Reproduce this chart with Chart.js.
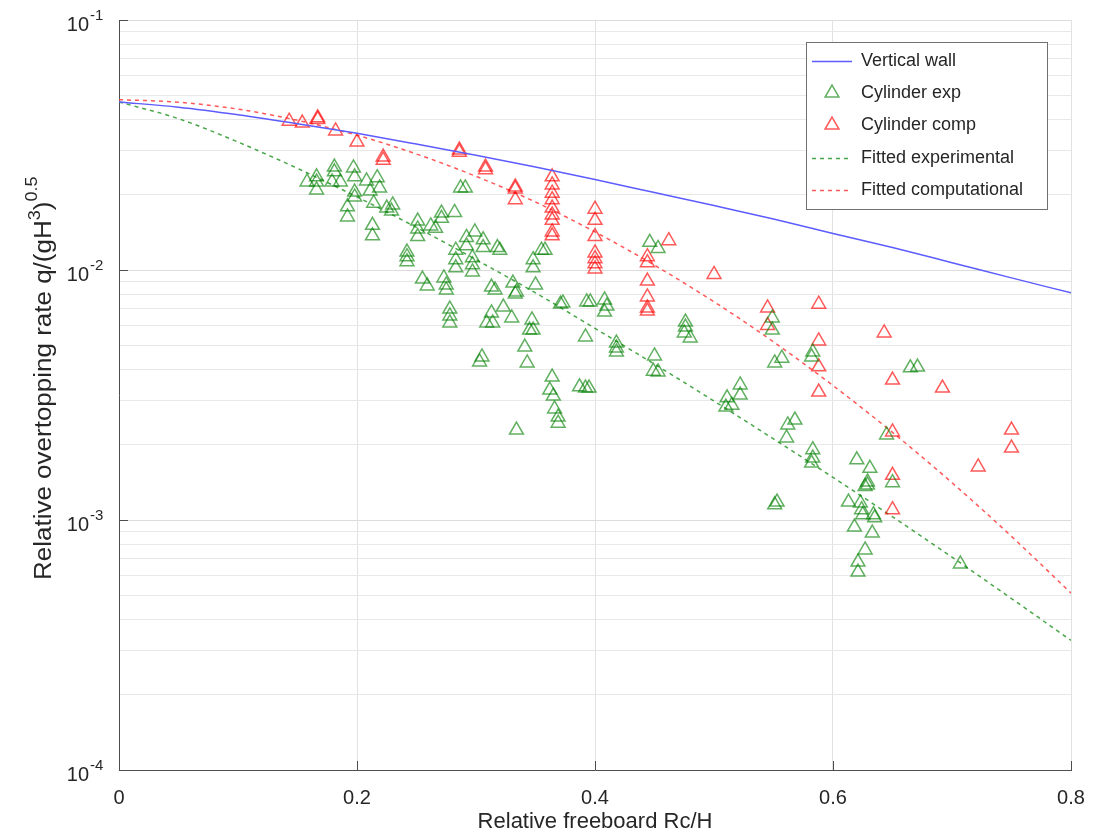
<!DOCTYPE html>
<html>
<head>
<meta charset="utf-8">
<script src="https://cdn.jsdelivr.net/npm/chart.js@4.4.1/dist/chart.umd.min.js"></script>
<style>
  html, body { margin: 0; padding: 0; background: #fff; }
</style>
</head>
<body>
<canvas id="chart1" width="1112" height="836"></canvas>
<script>
// curves sampled every 0.05 of Rc/H
const curveX = [0, 0.05, 0.1, 0.15, 0.2, 0.25, 0.3, 0.35, 0.4, 0.45, 0.5, 0.55, 0.6, 0.65, 0.7, 0.75, 0.8];
const wallQ = [0.047, 0.0448, 0.0418, 0.0385, 0.0352, 0.0319, 0.0288, 0.0258, 0.023, 0.0204, 0.0181, 0.016, 0.014, 0.0123, 0.0107, 0.0093, 0.0081];
const fitExpQ = [0.047, 0.0403, 0.0325, 0.0255, 0.0196, 0.0148, 0.011, 0.0081, 0.00584, 0.0042, 0.00299, 0.00211, 0.00148, 0.00103, 0.00071, 0.000485, 0.00033];
const fitCompQ = [0.048, 0.0469, 0.044, 0.0397, 0.0346, 0.0291, 0.0237, 0.0187, 0.0142, 0.01045, 0.00746, 0.00516, 0.00345, 0.00224, 0.00141, 0.00086, 0.00051];

// experimental cylinder points
const expX = [
  0.158, 0.166, 0.166, 0.166, 0.179, 0.181, 0.181, 0.186, 0.192, 0.192, 0.197, 0.198, 0.198, 0.198,
  0.208, 0.211, 0.217, 0.219, 0.214, 0.213, 0.213, 0.225, 0.23, 0.229,
  0.242, 0.242, 0.242, 0.251, 0.251, 0.251, 0.262, 0.266, 0.271, 0.271, 0.282, 0.287, 0.291,
  0.255, 0.259, 0.273, 0.275, 0.275, 0.278, 0.278, 0.278, 0.283, 0.283, 0.283,
  0.292, 0.292, 0.297, 0.297, 0.297, 0.299, 0.306, 0.306, 0.318, 0.32, 0.313, 0.316, 0.323,
  0.313, 0.309, 0.314, 0.33, 0.331, 0.334, 0.333, 0.347, 0.345, 0.348, 0.341, 0.343,
  0.305, 0.303, 0.334, 0.348, 0.348, 0.35, 0.355, 0.358,
  0.364, 0.362, 0.365, 0.366, 0.369, 0.369, 0.371, 0.373, 0.392, 0.393, 0.396, 0.408, 0.41,
  0.408, 0.387, 0.392, 0.395, 0.418, 0.418, 0.418,
  0.446, 0.453, 0.45, 0.449, 0.453, 0.476, 0.476, 0.475, 0.48,
  0.511, 0.51, 0.515, 0.522, 0.522, 0.549, 0.549, 0.551, 0.557, 0.568, 0.562, 0.561, 0.553, 0.551,
  0.583, 0.582, 0.583, 0.583, 0.582, 0.62, 0.631, 0.629, 0.629, 0.627, 0.645, 0.65,
  0.613, 0.623, 0.624, 0.625, 0.634, 0.635, 0.618, 0.633, 0.627, 0.621, 0.621,
  0.665, 0.671, 0.707
];
const expQ = [
  0.0225, 0.0236, 0.0225, 0.0209, 0.0225, 0.0258, 0.0247, 0.0225, 0.0179, 0.0163, 0.0256, 0.0236, 0.0205, 0.0196,
  0.0227, 0.0207, 0.0234, 0.0213, 0.0185, 0.0151, 0.0137, 0.0177, 0.0182, 0.0172,
  0.0118, 0.0113, 0.0108, 0.0157, 0.0146, 0.0136, 0.015, 0.0147, 0.0169, 0.0161, 0.017, 0.0213, 0.0213,
  0.0092, 0.00863, 0.00929, 0.00871, 0.00832, 0.00698, 0.00655, 0.00614, 0.012, 0.011, 0.0102,
  0.0135, 0.0125, 0.0112, 0.0105, 0.00982, 0.0142, 0.0132, 0.0123, 0.0123, 0.012, 0.00855, 0.00832, 0.00711,
  0.00673, 0.00614, 0.00614, 0.00643, 0.00887, 0.00817, 0.00802, 0.00631, 0.00575, 0.00575, 0.00492, 0.00425,
  0.00449, 0.00429, 0.00229, 0.011, 0.0102, 0.00871, 0.012, 0.012,
  0.00373, 0.00331, 0.00313, 0.00278, 0.00258, 0.00244, 0.00731, 0.00738, 0.0054, 0.00745, 0.00745, 0.00759, 0.00717,
  0.00679, 0.00341, 0.00337, 0.00337, 0.0051, 0.00488, 0.0047,
  0.0129, 0.0122, 0.00453, 0.00394, 0.00391, 0.00619, 0.00591, 0.0056, 0.00535,
  0.00308, 0.00283, 0.00288, 0.00347, 0.00316, 0.00643, 0.00575, 0.00425, 0.00444, 0.00251, 0.0024, 0.00213, 0.00118, 0.00115,
  0.0047, 0.00449, 0.00191, 0.00177, 0.00169, 0.00174, 0.00161, 0.00142, 0.00138, 0.00136, 0.00219, 0.00141,
  0.00118, 0.00117, 0.0011, 0.00105, 0.00105, 0.00102, 0.000937, 0.000887, 0.000759, 0.000679, 0.000619,
  0.00406, 0.00409, 0.000667
];

// computational cylinder points
const compX = [
  0.143, 0.154, 0.167, 0.167, 0.182, 0.2, 0.222, 0.222, 0.286, 0.286, 0.308, 0.308, 0.333, 0.333, 0.333,
  0.364, 0.364, 0.364, 0.364, 0.364, 0.364, 0.364, 0.364, 0.364,
  0.4, 0.4, 0.4, 0.4, 0.4, 0.4, 0.4,
  0.444, 0.444, 0.444, 0.444, 0.444, 0.444,
  0.462, 0.5, 0.545, 0.545, 0.588, 0.588, 0.588, 0.588,
  0.643, 0.65, 0.65, 0.65, 0.65, 0.692, 0.722, 0.75, 0.75
];
const compQ = [
  0.0394, 0.0387, 0.0406, 0.04, 0.036, 0.0325, 0.0283, 0.0275, 0.0302, 0.0296, 0.0258, 0.0252, 0.0215, 0.0211, 0.0191,
  0.0236, 0.0219, 0.0203, 0.0191, 0.0177, 0.0166, 0.0158, 0.0142, 0.0137,
  0.0175, 0.0158, 0.0136, 0.0117, 0.0111, 0.0106, 0.0101,
  0.0113, 0.0107, 0.00903, 0.0078, 0.00705, 0.00685,
  0.0131, 0.0096, 0.00705, 0.006, 0.0073, 0.0052, 0.0041, 0.00325,
  0.0056, 0.00363, 0.00225, 0.00151, 0.0011, 0.00337, 0.00163, 0.00229, 0.00194
];

const xTicks = [0, 0.2, 0.4, 0.6, 0.8];
const yDecades = [1e-4, 1e-3, 1e-2, 1e-1];
const yDecadeLabels = ["-4", "-3", "-2", "-1"];

const FONT = "'Liberation Sans', Arial, sans-serif";
const TXT = "#262626";

const pairs = (xs, ys) => xs.map((v, i) => ({ x: v, y: ys[i] }));

// y grid: decades plus 2..9 in between
let yTickValues = [];
for (let i = 0; i < yDecades.length - 1; i++) {
  for (let m = 1; m <= 9; m++) yTickValues.push(m * yDecades[i]);
}
yTickValues.push(yDecades[yDecades.length - 1]);

const overlay = {
  id: "overlay",
  afterDraw(chart) {
    const { ctx, chartArea: a } = chart;
    const xs = chart.scales.x;
    const ys = chart.scales.y;
    ctx.save();

    // inward tick marks
    ctx.strokeStyle = "#4d4d4d";
    ctx.lineWidth = 1;
    ctx.beginPath();
    xTicks.forEach((v) => {
      const px = Math.round(xs.getPixelForValue(v)) + 0.5;
      ctx.moveTo(px, a.bottom);
      ctx.lineTo(px, a.bottom - 9);
    });
    yDecades.forEach((v) => {
      const py = Math.round(ys.getPixelForValue(v)) + 0.5;
      ctx.moveTo(a.left, py);
      ctx.lineTo(a.left + 9, py);
    });
    ctx.stroke();

    // y tick labels 10^n
    ctx.fillStyle = TXT;
    yDecades.forEach((v, i) => {
      const py = ys.getPixelForValue(v);
      ctx.font = "20px " + FONT;
      ctx.textAlign = "right";
      ctx.textBaseline = "middle";
      ctx.fillText("10", 89, py + 5);
      ctx.font = "15px " + FONT;
      ctx.textAlign = "left";
      ctx.fillText(yDecadeLabels[i], 90, py - 4);
    });

    // x title
    ctx.font = "22px " + FONT;
    ctx.textAlign = "center";
    ctx.textBaseline = "middle";
    ctx.fillText("Relative freeboard Rc/H", (a.left + a.right) / 2, 822);

    // y title with superscripts
    ctx.save();
    ctx.translate(51, 580);
    ctx.rotate(-Math.PI / 2);
    ctx.scale(1.13, 1);
    ctx.textAlign = "left";
    ctx.textBaseline = "alphabetic";
    let cx = 0;
    const part = (t, size, rise) => {
      ctx.font = size + "px " + FONT;
      ctx.fillText(t, cx, -rise);
      cx += ctx.measureText(t).width;
    };
    part("Relative overtopping rate q/(gH", 23, 0);
    part("3", 16, 11);
    part(")", 23, 0);
    part("0.5", 16, 14);
    ctx.restore();

    // legend
    const L = { x: 806, y: 42, w: 241, h: 167 };
    ctx.fillStyle = "#fff";
    ctx.fillRect(L.x, L.y, L.w, L.h);
    ctx.strokeStyle = "#707070";
    ctx.lineWidth = 1;
    ctx.strokeRect(L.x + 0.5, L.y + 0.5, L.w, L.h);
    const rowY = [61, 93, 125, 158, 190];
    chart.data.datasets.forEach((ds, i) => {
      const yy = rowY[i];
      if (ds.showLine === false) {
        const r = 8;
        ctx.beginPath();
        ctx.moveTo(832, yy - r);
        ctx.lineTo(832 + r * Math.sin(Math.PI * 2 / 3), yy - r * Math.cos(Math.PI * 2 / 3));
        ctx.lineTo(832 + r * Math.sin(Math.PI * 4 / 3), yy - r * Math.cos(Math.PI * 4 / 3));
        ctx.closePath();
        ctx.strokeStyle = ds.borderColor;
        ctx.lineWidth = ds.borderWidth;
        ctx.setLineDash([]);
        ctx.stroke();
      } else {
        ctx.beginPath();
        ctx.moveTo(812, yy + 0.5);
        ctx.lineTo(852, yy + 0.5);
        ctx.strokeStyle = ds.borderColor;
        ctx.lineWidth = ds.borderWidth;
        ctx.setLineDash(ds.borderDash || []);
        ctx.stroke();
        ctx.setLineDash([]);
      }
      ctx.fillStyle = TXT;
      ctx.font = "18px " + FONT;
      ctx.textAlign = "left";
      ctx.textBaseline = "middle";
      ctx.fillText(ds.label, 861, yy);
    });

    ctx.restore();
  },
};

new Chart(document.getElementById("chart1"), {
  type: "scatter",
  data: {
    datasets: [
      {
        label: "Vertical wall",
        type: "line",
        data: pairs(curveX, wallQ),
        borderColor: "#5c5cff",
        borderWidth: 1.5,
        pointRadius: 0,
        cubicInterpolationMode: "monotone",
        fill: false,
      },
      {
        label: "Cylinder exp",
        data: pairs(expX, expQ),
        showLine: false,
        pointStyle: "triangle",
        pointRadius: 8,
        borderColor: "rgba(0,128,0,0.62)",
        backgroundColor: "rgba(0,0,0,0)",
        borderWidth: 1.5,
      },
      {
        label: "Cylinder comp",
        data: pairs(compX, compQ),
        showLine: false,
        pointStyle: "triangle",
        pointRadius: 8,
        borderColor: "rgba(255,0,0,0.65)",
        backgroundColor: "rgba(0,0,0,0)",
        borderWidth: 1.5,
      },
      {
        label: "Fitted experimental",
        type: "line",
        data: pairs(curveX, fitExpQ),
        borderColor: "rgba(40,150,40,0.85)",
        borderWidth: 1.5,
        borderDash: [4, 4],
        pointRadius: 0,
        cubicInterpolationMode: "monotone",
        fill: false,
      },
      {
        label: "Fitted computational",
        type: "line",
        data: pairs(curveX, fitCompQ),
        borderColor: "rgba(255,70,70,0.9)",
        borderWidth: 1.5,
        borderDash: [4, 4],
        pointRadius: 0,
        cubicInterpolationMode: "monotone",
        fill: false,
      },
    ],
  },
  options: {
    responsive: false,
    animation: false,
    layout: { padding: { top: 20, right: 41, left: 0, bottom: 0 } },
    plugins: {
      legend: { display: false },
      tooltip: { enabled: false },
    },
    scales: {
      x: {
        type: "linear",
        min: 0,
        max: 0.8,
        afterBuildTicks: (s) => { s.ticks = xTicks.map((v) => ({ value: v })); },
        afterFit: (s) => { s.height = 66; },
        ticks: {
          font: { family: FONT, size: 20 },
          color: TXT,
          padding: 16,
          maxRotation: 0,
        },
        grid: { color: "#e2e2e2", drawTicks: false },
        border: { display: true, color: "#4d4d4d", width: 1 },
      },
      y: {
        type: "logarithmic",
        min: 1e-4,
        max: 1e-1,
        afterBuildTicks: (s) => { s.ticks = yTickValues.map((v) => ({ value: v })); },
        afterFit: (s) => { s.width = 119; },
        ticks: { display: false, autoSkip: false },
        grid: {
          drawTicks: false,
          color: (c) => (yDecades.some((d) => Math.abs(c.tick.value / d - 1) < 1e-6) ? "#dcdcdc" : "#e8e8e8"),
        },
        border: { display: true, color: "#4d4d4d", width: 1 },
      },
    },
  },
  plugins: [overlay],
});
</script>
</body>
</html>
